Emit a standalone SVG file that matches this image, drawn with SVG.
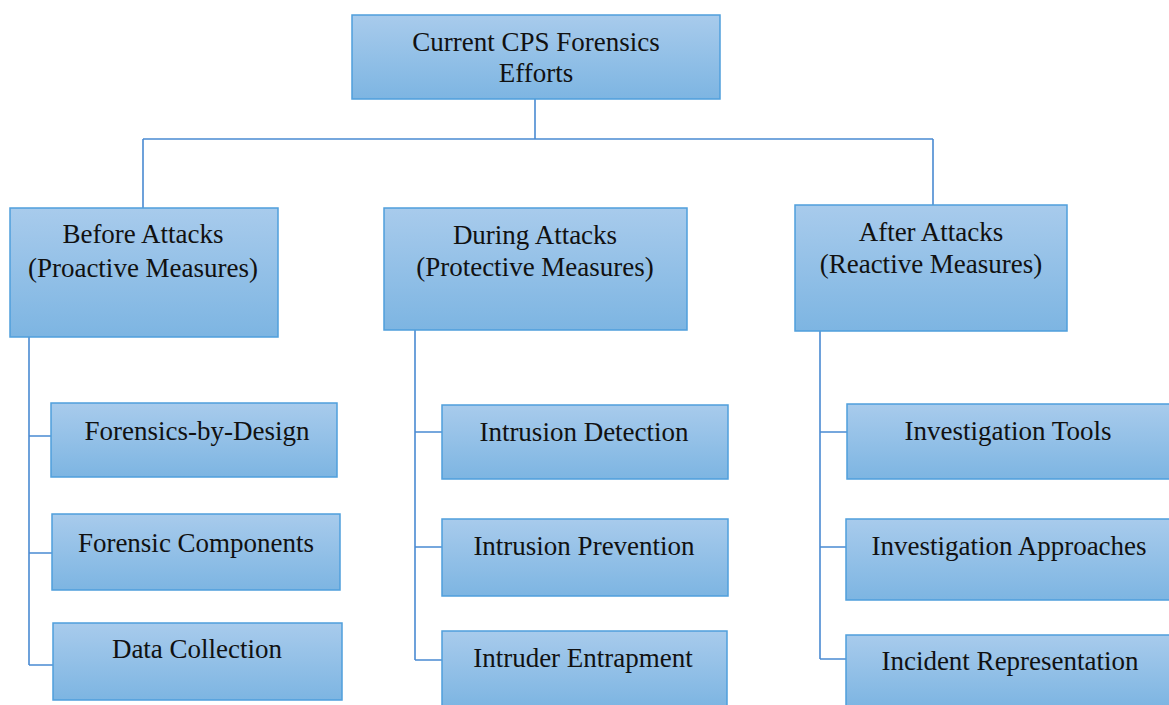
<svg xmlns="http://www.w3.org/2000/svg" width="1169" height="705" viewBox="0 0 1169 705">
<defs>
<linearGradient id="g" x1="0" y1="0" x2="0" y2="1">
<stop offset="0" stop-color="#a8cbec"/>
<stop offset="1" stop-color="#7db5e2"/>
</linearGradient>
</defs>
<style>
.box{fill:url(#g);stroke:#4f9fdc;stroke-width:1.5}
.t{font-family:"Liberation Serif","Times New Roman",serif;font-size:27px;fill:#111;text-anchor:middle}
.c{fill:none;stroke:#4a8ad2;stroke-width:1.6}
</style>
<rect width="1169" height="705" fill="#fff"/>
<g id="connectors">
<path class="c" d="M535 99V139M143 139H933M143 139V208M933 139V205"/>
<path class="c" d="M29 337V665M29 436H51M29 553H52M29 665H53"/>
<path class="c" d="M415 330V660M415 432H442M415 547H442M415 660H442"/>
<path class="c" d="M820 331V659M820 432H847M820 547H846M820 659H846"/>
</g>
<g id="root"><rect class="box" x="352" y="15" width="368" height="84"/><text class="t" x="536" y="51">Current CPS Forensics</text><text class="t" x="536" y="82">Efforts</text></g>
<g id="before"><rect class="box" x="10" y="208" width="268" height="129"/><text class="t" x="143" y="243">Before Attacks</text><text class="t" x="143" y="277">(Proactive Measures)</text></g>
<g id="during"><rect class="box" x="384" y="208" width="303" height="122"/><text class="t" x="535" y="244">During Attacks</text><text class="t" x="535" y="276">(Protective Measures)</text></g>
<g id="after"><rect class="box" x="795" y="205" width="272" height="126"/><text class="t" x="931" y="241">After Attacks</text><text class="t" x="931" y="273">(Reactive Measures)</text></g>
<g id="fbd"><rect class="box" x="51" y="403" width="286" height="74"/><text class="t" x="197" y="440">Forensics-by-Design</text></g>
<g id="fc"><rect class="box" x="52" y="514" width="288" height="76"/><text class="t" x="196" y="552">Forensic Components</text></g>
<g id="dc"><rect class="box" x="53" y="623" width="289" height="77"/><text class="t" x="197" y="658">Data Collection</text></g>
<g id="id"><rect class="box" x="442" y="405" width="286" height="74"/><text class="t" x="584" y="441">Intrusion Detection</text></g>
<g id="ip"><rect class="box" x="442" y="519" width="286" height="77"/><text class="t" x="584" y="555">Intrusion Prevention</text></g>
<g id="ie"><rect class="box" x="442" y="631" width="285" height="76"/><text class="t" x="583" y="667">Intruder Entrapment</text></g>
<g id="it"><rect class="box" x="847" y="404" width="324" height="75"/><text class="t" x="1008" y="440">Investigation Tools</text></g>
<g id="ia"><rect class="box" x="846" y="519" width="325" height="81"/><text class="t" x="1009" y="555">Investigation Approaches</text></g>
<g id="ir"><rect class="box" x="846" y="635" width="325" height="72"/><text class="t" x="1010" y="670">Incident Representation</text></g>
</svg>
